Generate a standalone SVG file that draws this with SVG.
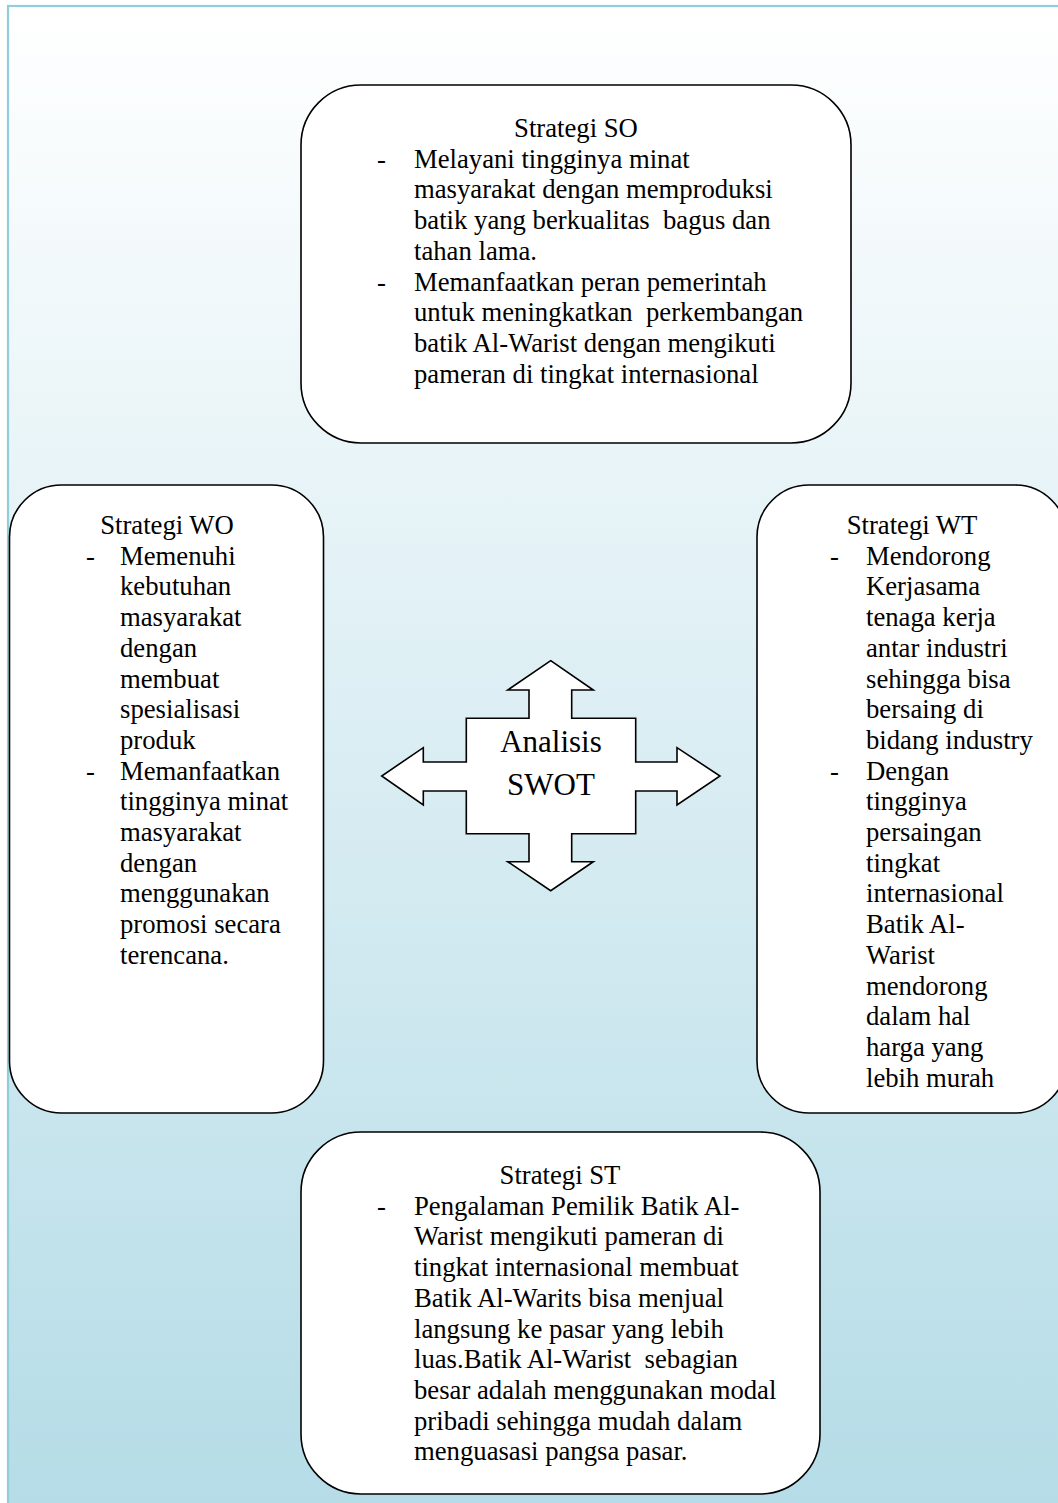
<svg xmlns="http://www.w3.org/2000/svg" width="1058" height="1503" viewBox="0 0 1058 1503">
<defs>
<linearGradient id="bg" gradientUnits="userSpaceOnUse" x1="0" y1="6" x2="0" y2="1503">
<stop offset="0" stop-color="#ffffff"/>
<stop offset="1" stop-color="#b5dce7"/>
</linearGradient>
<style>
.box{fill:#ffffff;stroke:#000000;stroke-width:1.6}
.t{font-family:"Liberation Serif","Times New Roman",serif;font-size:26.7px;fill:#000000;white-space:pre}
.h{text-anchor:middle}
.big{font-family:"Liberation Serif","Times New Roman",serif;font-size:31px;fill:#000000;text-anchor:middle}
</style>
</defs>
<rect x="8" y="6" width="1070" height="1520" fill="url(#bg)" stroke="#92cddc" stroke-width="2.2"/>

<g id="connectors"></g>

<g id="strategi-so">
<rect class="box" x="301" y="85" width="550" height="358" rx="60" ry="60"/>
<text class="t h" x="576" y="137">Strategi SO</text>
<text class="t" x="377" y="167.7">-</text>
<text class="t" x="414" y="167.7">Melayani tingginya minat</text>
<text class="t" x="414" y="198.4">masyarakat dengan memproduksi</text>
<text class="t" x="414" y="229.1">batik yang berkualitas  bagus dan</text>
<text class="t" x="414" y="259.8">tahan lama.</text>
<text class="t" x="377" y="290.5">-</text>
<text class="t" x="414" y="290.5">Memanfaatkan peran pemerintah</text>
<text class="t" x="414" y="321.2">untuk meningkatkan  perkembangan</text>
<text class="t" x="414" y="351.9">batik Al-Warist dengan mengikuti</text>
<text class="t" x="414" y="382.6">pameran di tingkat internasional</text>
</g>

<g id="strategi-wo">
<rect class="box" x="9.5" y="485" width="314" height="628" rx="52" ry="52"/>
<text class="t h" x="167" y="534">Strategi WO</text>
<text class="t" x="86" y="564.7">-</text>
<text class="t" x="120" y="564.7">Memenuhi</text>
<text class="t" x="120" y="595.4">kebutuhan</text>
<text class="t" x="120" y="626.1">masyarakat</text>
<text class="t" x="120" y="656.8">dengan</text>
<text class="t" x="120" y="687.5">membuat</text>
<text class="t" x="120" y="718.2">spesialisasi</text>
<text class="t" x="120" y="748.9">produk</text>
<text class="t" x="86" y="779.6">-</text>
<text class="t" x="120" y="779.6">Memanfaatkan</text>
<text class="t" x="120" y="810.3">tingginya minat</text>
<text class="t" x="120" y="841">masyarakat</text>
<text class="t" x="120" y="871.7">dengan</text>
<text class="t" x="120" y="902.4">menggunakan</text>
<text class="t" x="120" y="933.1">promosi secara</text>
<text class="t" x="120" y="963.8">terencana.</text>
</g>

<g id="strategi-wt">
<rect class="box" x="757" y="485" width="310" height="628" rx="52" ry="52"/>
<text class="t h" x="912" y="534">Strategi WT</text>
<text class="t" x="830" y="564.7">-</text>
<text class="t" x="866" y="564.7">Mendorong</text>
<text class="t" x="866" y="595.4">Kerjasama</text>
<text class="t" x="866" y="626.1">tenaga kerja</text>
<text class="t" x="866" y="656.8">antar industri</text>
<text class="t" x="866" y="687.5">sehingga bisa</text>
<text class="t" x="866" y="718.2">bersaing di</text>
<text class="t" x="866" y="748.9">bidang industry</text>
<text class="t" x="830" y="779.6">-</text>
<text class="t" x="866" y="779.6">Dengan</text>
<text class="t" x="866" y="810.3">tingginya</text>
<text class="t" x="866" y="841">persaingan</text>
<text class="t" x="866" y="871.7">tingkat</text>
<text class="t" x="866" y="902.4">internasional</text>
<text class="t" x="866" y="933.1">Batik Al-</text>
<text class="t" x="866" y="963.8">Warist</text>
<text class="t" x="866" y="994.5">mendorong</text>
<text class="t" x="866" y="1025.2">dalam hal</text>
<text class="t" x="866" y="1055.9">harga yang</text>
<text class="t" x="866" y="1086.6">lebih murah</text>
</g>

<g id="strategi-st">
<rect class="box" x="301" y="1132" width="519" height="362" rx="60" ry="60"/>
<text class="t h" x="560" y="1184">Strategi ST</text>
<text class="t" x="377" y="1214.7">-</text>
<text class="t" x="414" y="1214.7">Pengalaman Pemilik Batik Al-</text>
<text class="t" x="414" y="1245.4">Warist mengikuti pameran di</text>
<text class="t" x="414" y="1276.1">tingkat internasional membuat</text>
<text class="t" x="414" y="1306.8">Batik Al-Warits bisa menjual</text>
<text class="t" x="414" y="1337.5">langsung ke pasar yang lebih</text>
<text class="t" x="414" y="1368.2">luas.Batik Al-Warist  sebagian</text>
<text class="t" x="414" y="1398.9">besar adalah menggunakan modal</text>
<text class="t" x="414" y="1429.6">pribadi sehingga mudah dalam</text>
<text class="t" x="414" y="1460.3">menguasasi pangsa pasar.</text>
</g>

<g id="analisis-swot">
<path class="box" d="M550.7,660.7 L593.3,690 L571.7,690 L571.7,718.3 L635.7,718.3 L635.7,762 L677,762 L677,747.7 L720,776 L677,805 L677,791 L635.7,791 L635.7,833.7 L571.7,833.7 L571.7,861.7 L593.3,861.7 L550.7,890.7 L507.7,861.7 L529,861.7 L529,833.7 L466.3,833.7 L466.3,791 L423.3,791 L423.3,805 L381.7,776 L423.3,747.7 L423.3,762 L466.3,762 L466.3,718.3 L529,718.3 L529,690 L507.7,690 Z" stroke-width="1.4" stroke-linejoin="miter"/>
<text class="big" x="551" y="752">Analisis</text>
<text class="big" x="551" y="795">SWOT</text>
</g>
</svg>
